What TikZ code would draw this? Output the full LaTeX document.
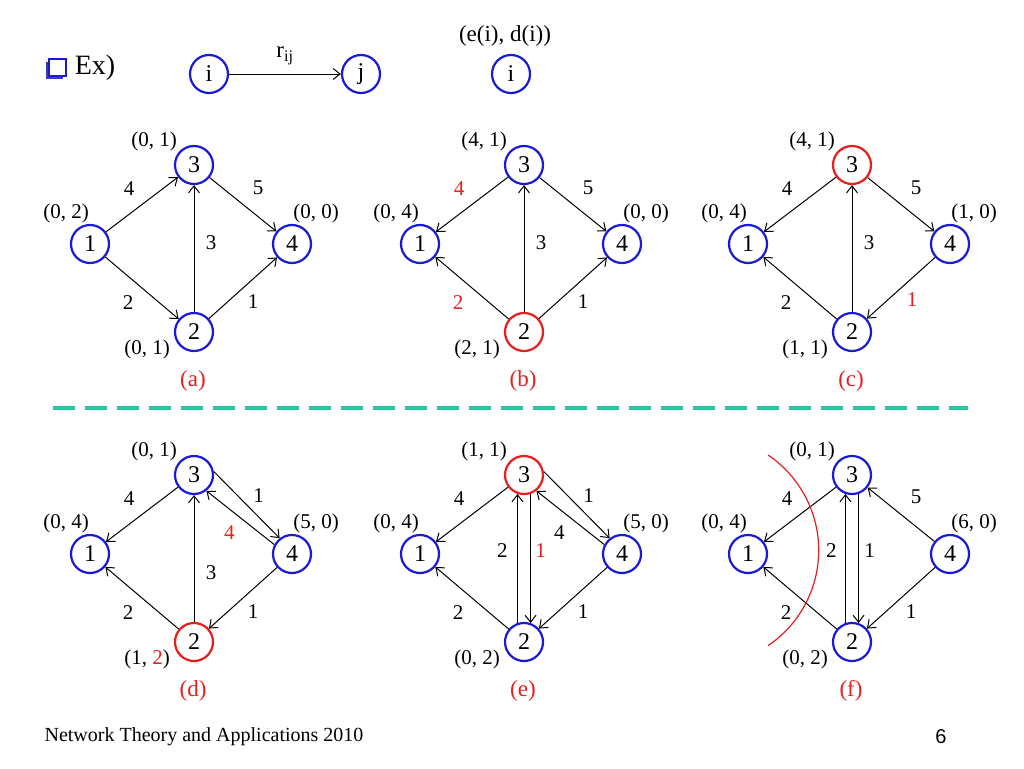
\documentclass[tikz,border=0pt]{standalone}
\usepackage{fontspec}
\setmainfont{Liberation Serif}
\newfontfamily\slidesans{Liberation Sans}
\usetikzlibrary{arrows.meta}
\definecolor{nodeblue}{RGB}{25,25,215}
\definecolor{markred}{RGB}{232,30,30}
\definecolor{sepgreen}{RGB}{35,200,160}
\definecolor{boxshade}{RGB}{60,60,170}

\begin{document}
\begin{tikzpicture}[x=1pt,y=-1pt]
	\tikzset{vertex/.style={draw=nodeblue, circle, line width=2.2pt, minimum size=38pt, inner sep=0pt, font=\fontsize{24}{24}\selectfont},
		flow/.style={-{Straight Barb[length=7pt,width=11pt]}, line width=1pt},
		wt/.style={font=\fontsize{21}{21}\selectfont, inner sep=0pt, shift={(#1)}},
		ed/.style={font=\fontsize{21}{21}\selectfont, inner sep=0pt},
		subtag/.style={text=markred, font=\fontsize{23}{23}\selectfont}}
	\useasboundingbox (0,0) rectangle (1024,768);
	
	% header
	\fill[boxshade] (46,62) rectangle (63,79);
	\draw[draw=nodeblue, fill=white, line width=1.4pt] (49,59) rectangle (66,76);
	\node[font=\fontsize{28}{28}\selectfont] (ex) at (95,68) {Ex)};
	\node[vertex] (hi) at (209,74) {i};
	\node[vertex] (hj) at (361,74) {j};
	\draw[flow] (hi) -- node[above=7pt, inner sep=2pt, font=\fontsize{23}{23}\selectfont] {r\textsubscript{ij}} (hj);
	\node[vertex] (hk) at (511,74) {i};
	\node[ed, font=\fontsize{23}{23}\selectfont] (hklab) at (505,36) {(e(i), d(i))};
	
	% the six networks
	\foreach \g/\cx/\cy/\colb/\colc in {a/194/165/nodeblue/nodeblue, b/524/165/markred/nodeblue, c/852/165/nodeblue/markred,
		d/194/475/markred/nodeblue, e/524/475/nodeblue/markred, f/852/475/nodeblue/nodeblue}{
		\node[vertex, draw=\colc] (\g3) at (\cx,\cy) {3};
		\node[vertex] (\g1) at (\cx-104,\cy+79) {1};
		\node[vertex] (\g4) at (\cx+98,\cy+79) {4};
		\node[vertex, draw=\colb] (\g2) at (\cx,\cy+167) {2};
		\node[subtag] (tag\g) at (\cx-1,\cy+216) {(\g)};
	}
	\foreach \g/\one/\two/\three/\four in {a/{(0, 2)}/{(0, 1)}/{(0, 1)}/{(0, 0)}, b/{(0, 4)}/{(2, 1)}/{(4, 1)}/{(0, 0)},
		c/{(0, 4)}/{(1, 1)}/{(4, 1)}/{(1, 0)}, d/{(0, 4)}/{(1, \textcolor{markred}{2})}/{(0, 1)}/{(5, 0)},
		e/{(0, 4)}/{(0, 2)}/{(1, 1)}/{(5, 0)}, f/{(0, 4)}/{(0, 2)}/{(0, 1)}/{(6, 0)}}{
		\node[ed] (lab\g1) at ([shift={(-24,-31)}]\g1) {\one};
		\node[ed] (lab\g2) at ([shift={(-47,17)}]\g2) {\two};
		\node[ed] (lab\g3) at ([shift={(-40,-24)}]\g3) {\three};
		\node[ed] (lab\g4) at ([shift={(24,-31)}]\g4) {\four};
	}
	
	% (a)
	\draw[flow] (a1) -- node[wt={-13,-16}] {4} (a3);
	\draw[flow] (a3) -- node[wt={15,-17}] {5} (a4);
	\draw[flow] (a2) -- node[wt={17,-6}] {3} (a3);
	\draw[flow] (a1) -- node[wt={-14,15}] {2} (a2);
	\draw[flow] (a2) -- node[wt={10,14}] {1} (a4);
	% (b)
	\draw[flow] (b3) -- node[wt={-13,-16}, text=markred] {4} (b1);
	\draw[flow] (b3) -- node[wt={15,-17}] {5} (b4);
	\draw[flow] (b2) -- node[wt={17,-6}] {3} (b3);
	\draw[flow] (b2) -- node[wt={-14,15}, text=markred] {2} (b1);
	\draw[flow] (b2) -- node[wt={10,14}] {1} (b4);
	% (c)
	\draw[flow] (c3) -- node[wt={-13,-16}] {4} (c1);
	\draw[flow] (c3) -- node[wt={15,-17}] {5} (c4);
	\draw[flow] (c2) -- node[wt={17,-6}] {3} (c3);
	\draw[flow] (c2) -- node[wt={-14,15}] {2} (c1);
	\draw[flow] (c4) -- node[wt={11,12}, text=markred] {1} (c2);
	% (d)
	\draw[flow] (d3) -- node[wt={-13,-16}] {4} (d1);
	\draw[flow] (d3.10) -- node[wt={12,-9}] {1} (d4.128);
	\draw[flow] (d4.152) -- node[wt={-11,15}, text=markred] {4} (d3.308);
	\draw[flow] (d2) -- node[wt={17,14}] {3} (d3);
	\draw[flow] (d2) -- node[wt={-14,15}] {2} (d1);
	\draw[flow] (d4) -- node[wt={10,14}] {1} (d2);
	% (e)
	\draw[flow] (e3) -- node[wt={-13,-16}] {4} (e1);
	\draw[flow] (e3.10) -- node[wt={12,-9}] {1} (e4.128);
	\draw[flow] (e4.152) -- node[wt={-11,15}] {4} (e3.308);
	\draw[flow] (e2.109) -- node[wt={-15,-8}] {2} (e3.251);
	\draw[flow] (e3.289) -- node[wt={10,-8}, text=markred] {1} (e2.71);
	\draw[flow] (e2) -- node[wt={-14,15}] {2} (e1);
	\draw[flow] (e4) -- node[wt={10,14}] {1} (e2);
	% (f)
	\draw[flow] (f3) -- node[wt={-13,-16}] {4} (f1);
	\draw[flow] (f4) -- node[wt={15,-18}] {5} (f3);
	\draw[flow] (f2.109) -- node[wt={-14,-8}] {2} (f3.251);
	\draw[flow] (f3.289) -- node[wt={11,-8}] {1} (f2.71);
	\draw[flow] (f2) -- node[wt={-14,15}] {2} (f1);
	\draw[flow] (f4) -- node[wt={10,14}] {1} (f2);
	\draw[markred, line width=1.2pt] (768,455) arc[start angle=56, end angle=-56, radius=115pt];
	
	% separator and footer
	\draw[sepgreen, line width=3.5pt, dash pattern=on 22pt off 10pt] (53,408) -- (968,408);
	\node[font=\fontsize{20}{20}\selectfont] (foot) at (204,737) {Network Theory and Applications 2010};
	\node[font=\slidesans\fontsize{20}{20}\selectfont] (pagenum) at (941,737) {6};
\end{tikzpicture}
\end{document}
